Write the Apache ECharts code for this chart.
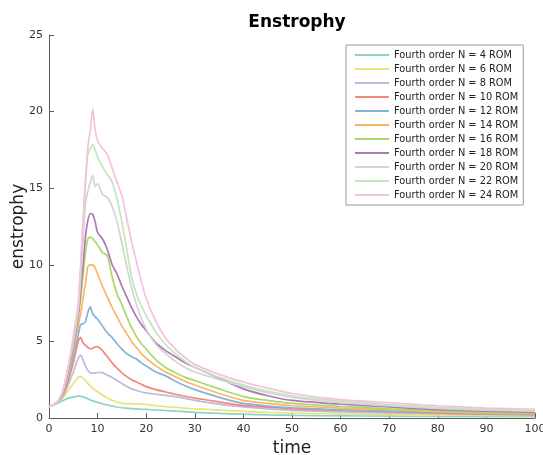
<!DOCTYPE html>
<html>
<head>
<meta charset="utf-8">
<script src="https://cdn.jsdelivr.net/npm/echarts@6/dist/echarts.min.js"></script>
<style>html,body{margin:0;padding:0;background:#fff}#c{width:543px;height:455px}</style>
</head>
<body>
<div id="c"></div>
<script>
var times = [0,1,2,3,4,5,6,6.5,7,7.5,8,8.5,9,9.5,10,11,12,13,14,15,16,17,18,19,20,22,24,26,28,30,35,40,45,50,60,70,80,90,100];
var seriesNames = ['Fourth order N = 4 ROM','Fourth order N = 6 ROM','Fourth order N = 8 ROM','Fourth order N = 10 ROM','Fourth order N = 12 ROM','Fourth order N = 14 ROM','Fourth order N = 16 ROM','Fourth order N = 18 ROM','Fourth order N = 20 ROM','Fourth order N = 22 ROM','Fourth order N = 24 ROM'];
var n4  = [0.75,0.85,1.0,1.15,1.3,1.38,1.43,1.42,1.38,1.32,1.25,1.18,1.12,1.07,1.02,0.93,0.85,0.78,0.72,0.67,0.64,0.61,0.59,0.57,0.56,0.52,0.49,0.45,0.41,0.37,0.3,0.25,0.2,0.17,0.14,0.12,0.1,0.09,0.08];
var n6  = [0.75,0.87,1.05,1.35,1.8,2.25,2.65,2.7,2.6,2.45,2.25,2.1,1.95,1.83,1.72,1.5,1.3,1.15,1.03,0.96,0.93,0.92,0.92,0.91,0.88,0.8,0.74,0.7,0.65,0.6,0.52,0.43,0.37,0.32,0.27,0.24,0.2,0.17,0.15];
var n8  = [0.75,0.88,1.1,1.5,2.2,3.0,3.9,4.1,3.8,3.4,3.1,2.95,2.92,2.94,2.97,2.96,2.8,2.65,2.45,2.25,2.05,1.9,1.8,1.7,1.64,1.55,1.48,1.4,1.28,1.15,0.9,0.72,0.6,0.5,0.4,0.34,0.28,0.23,0.2];
var n10 = [0.75,0.88,1.12,1.6,2.5,3.6,5.0,5.27,4.9,4.75,4.6,4.52,4.55,4.65,4.66,4.4,4.0,3.6,3.25,2.95,2.7,2.5,2.35,2.2,2.05,1.85,1.7,1.55,1.42,1.3,1.05,0.82,0.7,0.6,0.5,0.42,0.32,0.26,0.22];
var n12 = [0.75,0.88,1.13,1.7,2.8,4.0,5.4,6.1,6.15,6.3,6.9,7.25,6.8,6.6,6.45,6.0,5.55,5.25,4.85,4.5,4.2,4.0,3.85,3.6,3.4,3.0,2.75,2.4,2.1,1.85,1.35,0.95,0.78,0.67,0.53,0.45,0.36,0.29,0.25];
var n14 = [0.75,0.88,1.14,1.75,3.0,4.4,6.0,6.8,7.8,8.8,9.9,10.0,10.0,9.8,9.4,8.6,7.9,7.2,6.6,6.0,5.5,5.0,4.6,4.2,3.9,3.4,3.0,2.7,2.4,2.15,1.6,1.15,0.95,0.8,0.65,0.55,0.42,0.33,0.28];
var n16 = [0.75,0.88,1.15,1.8,3.1,4.6,6.5,7.8,9.3,10.8,11.7,11.8,11.7,11.5,11.3,10.8,10.6,9.2,8.1,7.4,6.6,5.9,5.3,4.85,4.5,3.8,3.3,2.95,2.65,2.45,1.9,1.4,1.15,0.95,0.75,0.6,0.48,0.38,0.32];
var n18 = [0.75,0.88,1.15,1.85,3.2,4.7,6.7,8.2,10.0,11.8,12.9,13.35,13.3,12.8,12.1,11.7,11.0,10.0,9.4,8.6,7.9,7.2,6.6,6.1,5.7,4.9,4.4,4.0,3.6,3.3,2.6,1.9,1.45,1.15,0.9,0.72,0.55,0.44,0.38];
var n20 = [0.75,0.88,1.16,1.9,3.3,4.9,7.0,9.0,11.5,14.0,14.8,15.4,15.85,15.1,15.3,14.6,14.4,13.8,12.8,11.4,9.9,8.5,7.4,6.5,5.8,4.8,4.2,3.7,3.3,3.0,2.5,2.05,1.65,1.35,1.0,0.8,0.62,0.52,0.45];
var n22 = [0.75,0.88,1.17,1.95,3.4,5.1,7.2,9.5,12.5,15.3,17.2,17.6,17.85,17.5,17.05,16.4,15.9,15.4,14.3,12.8,11.0,9.2,8.1,7.3,6.7,5.6,4.8,4.2,3.7,3.3,2.65,2.15,1.75,1.45,1.1,0.88,0.7,0.57,0.48];
var n24 = [0.75,0.88,1.18,2.0,3.5,5.3,7.5,10.0,13.0,15.5,17.7,18.8,20.2,18.8,18.1,17.6,17.2,16.3,15.4,14.5,13.0,11.5,10.2,8.9,7.8,6.3,5.2,4.5,3.95,3.5,2.85,2.35,1.95,1.6,1.2,1.0,0.8,0.65,0.57];
var xTicks = [0,10,20,30,40,50,60,70,80,90,100];
var yTicks = [0,5,10,15,20,25];

var allValues = [n4,n6,n8,n10,n12,n14,n16,n18,n20,n22,n24];
var colors = ['#8dd3c7','#ece27a','#bebada','#f4877a','#86b2d6','#fbb466','#a9d967','#b277b7','#d4d4d4','#c4e6bd','#f5c0dc'];

var series = allValues.map(function(vals, i){
  return {
    name: seriesNames[i],
    type: 'line',
    data: times.map(function(t, j){ return [t, vals[j]]; }),
    showSymbol: false,
    smooth: 0.2,
    lineStyle: {width: 1.7, color: colors[i]},
    itemStyle: {color: colors[i]},
    z: 2 + i
  };
});

var chart = echarts.init(document.getElementById('c'), null, {renderer: 'canvas'});
chart.setOption({
  animation: false,
  backgroundColor: '#fff',
  title: {
    text: 'Enstrophy', left: 292, top: 9, textAlign: 'center',
    textStyle: {fontFamily: 'DejaVu Sans', fontSize: 17, fontWeight: 'bold', color: '#000'}
  },
  legend: {
    orient: 'vertical', left: 346, top: 45,
    data: seriesNames,
    icon: 'rect', itemWidth: 34, itemHeight: 2, itemGap: 0,
    padding: [3, 5, 3, 9],
    borderColor: '#999', borderWidth: 1, backgroundColor: '#fff',
    textStyle: {fontFamily: 'DejaVu Sans', fontSize: 9.8, color: '#222', lineHeight: 14, height: 14}
  },
  grid: {left: 49, right: 8, top: 35, bottom: 37, containLabel: false, outerBoundsMode: 'none'},
  xAxis: {
    type: 'value', min: 0, max: 100, interval: 10,
    name: 'time', nameLocation: 'middle', nameGap: 22, nameMoveOverlap: false,
    nameTextStyle: {fontFamily: 'DejaVu Sans', fontSize: 17, color: '#222'},
    axisLine: {show: true, lineStyle: {color: '#5a5a5a', width: 1}},
    axisTick: {show: true, inside: true, length: 5, lineStyle: {color: '#5a5a5a'}},
    axisLabel: {fontFamily: 'DejaVu Sans', fontSize: 11, color: '#333', margin: 6,
      formatter: function(v){ return xTicks.indexOf(v) >= 0 ? String(v) : ''; }},
    splitLine: {show: false}
  },
  yAxis: {
    type: 'value', min: 0, max: 25, interval: 5,
    name: 'enstrophy', nameLocation: 'middle', nameGap: 22, nameMoveOverlap: false,
    nameTextStyle: {fontFamily: 'DejaVu Sans', fontSize: 17, color: '#222'},
    axisLine: {show: true, lineStyle: {color: '#5a5a5a', width: 1}},
    axisTick: {show: true, inside: true, length: 5, lineStyle: {color: '#5a5a5a'}},
    axisLabel: {fontFamily: 'DejaVu Sans', fontSize: 11, color: '#333', margin: 6,
      formatter: function(v){ return yTicks.indexOf(v) >= 0 ? String(v) : ''; }},
    splitLine: {show: false}
  },
  series: series
});
</script>
</body>
</html>
